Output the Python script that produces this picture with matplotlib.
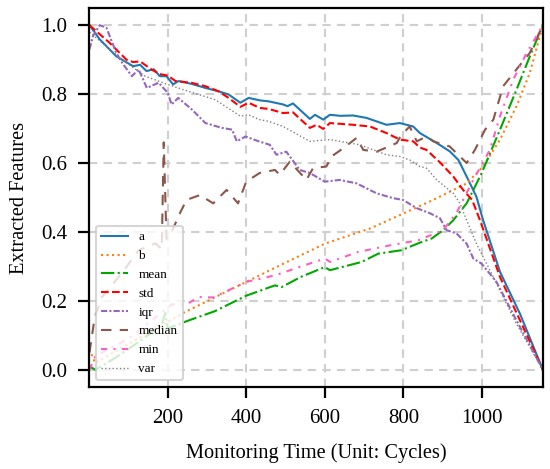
import matplotlib
matplotlib.use("Agg")
import matplotlib.pyplot as plt

plt.rcParams['font.family'] = ['Liberation Serif', 'DejaVu Serif']

# values (cycle, normalised feature)
a_x = [1, 27, 69, 112, 130, 146, 165, 180, 197, 214, 227, 260, 296, 330, 355, 385, 406, 434, 457,
       494, 505, 519, 562, 575, 596, 613, 640, 672, 706, 757, 791, 825, 842, 885, 918, 940, 961,
       986, 1003, 1046, 1097, 1155]
a_y = [1.0, 0.959, 0.910, 0.881, 0.885, 0.867, 0.872, 0.852, 0.852, 0.828, 0.838, 0.830, 0.818,
       0.808, 0.799, 0.775, 0.789, 0.782, 0.779, 0.770, 0.765, 0.773, 0.728, 0.740, 0.726, 0.740,
       0.737, 0.738, 0.731, 0.711, 0.716, 0.706, 0.687, 0.658, 0.634, 0.609, 0.561, 0.502, 0.434,
       0.284, 0.162, 0.0]

b_x = [1, 15, 243, 473, 600, 715, 791, 876, 961, 1003, 1046, 1088, 1122, 1155]
b_y = [0.06, 0.02, 0.167, 0.296, 0.366, 0.410, 0.449, 0.493, 0.541, 0.590, 0.668, 0.765, 0.862, 1.0]

mean_x = [1, 16, 60, 100, 150, 185, 194, 200, 253, 320, 400, 473, 490, 540, 600, 613, 694, 736,
          795, 842, 872, 901, 927, 961, 999, 1046, 1088, 1122, 1155]
mean_y = [0.01, 0.0, 0.03, 0.06, 0.10, 0.13, 0.165, 0.12, 0.143, 0.17, 0.215, 0.245, 0.24, 0.27,
          0.298, 0.289, 0.313, 0.337, 0.347, 0.369, 0.381, 0.405, 0.434, 0.483, 0.570, 0.697,
          0.813, 0.910, 1.0]

std_x = [1, 52, 95, 112, 130, 158, 180, 200, 220, 260, 296, 330, 355, 385, 406, 434, 457, 494,
         519, 562, 579, 596, 613, 672, 715, 757, 791, 825, 842, 859, 893, 927, 952, 975, 995,
         1046, 1097, 1155]
std_y = [1.0, 0.949, 0.900, 0.893, 0.895, 0.872, 0.858, 0.854, 0.838, 0.833, 0.823, 0.808, 0.789,
         0.763, 0.775, 0.760, 0.757, 0.745, 0.747, 0.702, 0.711, 0.699, 0.716, 0.711, 0.706,
         0.687, 0.668, 0.663, 0.645, 0.638, 0.602, 0.561, 0.522, 0.493, 0.434, 0.269, 0.143, 0.0]

iqr_x = [1, 10, 27, 44, 69, 84, 109, 126, 147, 177, 200, 210, 227, 262, 296, 338, 364, 376, 398,
         432, 460, 477, 502, 536, 562, 600, 638, 681, 732, 774, 799, 834, 868, 893, 910, 935, 961,
         978, 999, 1037, 1088, 1155]
iqr_y = [0.93, 0.969, 1.0, 0.993, 0.92, 0.891, 0.852, 0.872, 0.818, 0.833, 0.804, 0.770, 0.789,
         0.755, 0.716, 0.702, 0.697, 0.663, 0.677, 0.663, 0.653, 0.624, 0.633, 0.580, 0.571,
         0.546, 0.551, 0.541, 0.512, 0.498, 0.493, 0.469, 0.454, 0.440, 0.405, 0.396, 0.366,
         0.323, 0.308, 0.255, 0.143, 0.0]

median_x = [1, 14, 32, 83, 126, 169, 185, 190, 197, 210, 231, 248, 282, 316, 350, 379, 400, 434,
            473, 485, 511, 553, 570, 604, 617, 647, 681, 698, 732, 783, 795, 816, 834, 859, 876,
            918, 961, 982, 1008, 1029, 1054, 1088, 1122, 1155]
median_y = [0.05, 0.15, 0.21, 0.28, 0.347, 0.367, 0.35, 0.66, 0.38, 0.40, 0.454, 0.493, 0.507,
            0.483, 0.522, 0.483, 0.546, 0.571, 0.58, 0.566, 0.604, 0.551, 0.585, 0.590, 0.619,
            0.643, 0.673, 0.638, 0.633, 0.658, 0.682, 0.706, 0.663, 0.677, 0.663, 0.648, 0.600,
            0.638, 0.697, 0.726, 0.823, 0.872, 0.92, 1.0]

min_x = [1, 16, 100, 211, 248, 279, 316, 400, 473, 540, 600, 613, 685, 770, 838, 901, 935, 978,
         1020, 1046, 1080, 1114, 1155]
min_y = [0.0, 0.04, 0.09, 0.19, 0.19, 0.211, 0.21, 0.255, 0.274, 0.30, 0.323, 0.313, 0.342, 0.362,
         0.376, 0.405, 0.455, 0.551, 0.638, 0.736, 0.843, 0.920, 1.0]

var_x = [1, 84, 143, 200, 253, 321, 385, 406, 434, 457, 494, 562, 613, 689, 757, 791, 816, 842,
         859, 885, 927, 944, 961, 986, 1029, 1088, 1155]
var_y = [0.98, 0.90, 0.852, 0.828, 0.808, 0.784, 0.736, 0.740, 0.726, 0.721, 0.706, 0.663, 0.668,
         0.653, 0.624, 0.619, 0.609, 0.590, 0.585, 0.551, 0.512, 0.483, 0.434, 0.366, 0.269,
         0.133, 0.0]

fig = plt.figure(figsize=(5.5, 4.69), dpi=100)
ax = fig.add_axes([0.1627, 0.1748, 0.8243, 0.8082])

ax.plot(a_x, a_y, color='#1f77b4', lw=1.5, ls='-', label='a')
ax.plot(b_x, b_y, color='#ff7f0e', lw=1.5, ls=':', label='b')
ax.plot(mean_x, mean_y, color='#00a800', lw=1.5, ls='-.', label='mean')
ax.plot(std_x, std_y, color='#ff0000', lw=1.5, ls='--', label='std')
ax.plot(iqr_x, iqr_y, color='#9467bd', lw=1.5, ls=(0, (3, 1, 1, 1)), label='iqr')
ax.plot(median_x, median_y, color='#8c564b', lw=1.5, ls=(0, (5, 4)), label='median')
ax.plot(min_x, min_y, color='#ff5fc0', lw=1.5, ls=(0, (3, 3, 1, 3)), label='min')
ax.plot(var_x, var_y, color='#7f7f7f', lw=1.0, ls=':', label='var')

ax.set_xlim(1, 1155)
ax.set_ylim(-0.05, 1.05)
ax.set_xticks([200, 400, 600, 800, 1000])
ax.set_yticks([0.0, 0.2, 0.4, 0.6, 0.8, 1.0])
ax.grid(True, color='#cfcfcf', lw=1.5, ls=(0, (4, 3)))
ax.set_axisbelow(True)

for s in ax.spines.values():
    s.set_linewidth(1.6)
ax.tick_params(direction='out', length=8, width=1.6, labelsize=15, pad=8)

ax.set_xlabel('Monitoring Time (Unit: Cycles)', fontsize=14.7, labelpad=11)
ax.set_ylabel('Extracted Features', fontsize=14.7, labelpad=9)

leg = ax.legend(loc='lower left', fontsize=9.5, framealpha=0.8, fancybox=True)
leg.get_frame().set_edgecolor('#cccccc')
leg.get_frame().set_linewidth(1.5)

fig.savefig('out.png', dpi=100)
